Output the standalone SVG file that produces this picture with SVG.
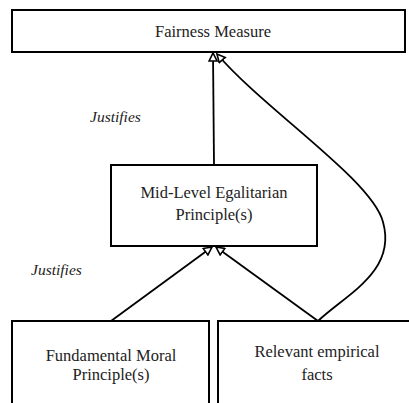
<svg xmlns="http://www.w3.org/2000/svg" width="409" height="403" viewBox="0 0 409 403">
<style>
.box{fill:#fff;stroke:#000;stroke-width:2}
.t{font-family:"Liberation Serif","Times New Roman",serif;font-size:16.5px;fill:#222;text-anchor:middle}
.j{font-family:"Liberation Serif","Times New Roman",serif;font-size:15.5px;font-style:italic;fill:#222}
.c{fill:none;stroke:#000;stroke-width:1.8}
</style>
<defs>
<marker id="ah" viewBox="0 0 10 10" refX="9" refY="5" markerWidth="10" markerHeight="10" markerUnits="userSpaceOnUse" orient="auto">
<path d="M1,1 L9,5 L1,9 Z" fill="#fff" stroke="#000" stroke-width="1.6"/>
</marker>
</defs>
<rect width="409" height="403" fill="#fff"/>
<g id="fairness-measure"><rect class="box" x="12" y="10" width="393" height="42"/><text class="t" x="213" y="37">Fairness Measure</text></g>
<g id="mid-level"><rect class="box" x="111" y="165" width="206" height="81"/><text class="t" x="214" y="198">Mid-Level Egalitarian</text><text class="t" x="214" y="220">Principle(s)</text></g>
<g id="fundamental"><rect class="box" x="12" y="321" width="197" height="90"/><text class="t" x="111" y="361">Fundamental Moral</text><text class="t" x="111" y="380">Principle(s)</text></g>
<g id="empirical"><rect class="box" x="218" y="321" width="200" height="90"/><text class="t" x="317" y="357">Relevant empirical</text><text class="t" x="317" y="380">facts</text></g>
<g id="labels"><text class="j" x="90" y="122">Justifies</text><text class="j" x="31" y="275">Justifies</text></g>
<g id="connectors">
<path class="c" d="M214,165 L213,53" marker-end="url(#ah)"/>
<path class="c" d="M111,321 L212,247" marker-end="url(#ah)"/>
<path class="c" d="M318,321 L216,247" marker-end="url(#ah)"/>
<path class="c" d="M318,321 C345,295 397,272 383,222 C372,180 265,110 217,54" marker-end="url(#ah)"/>
</g>
</svg>
